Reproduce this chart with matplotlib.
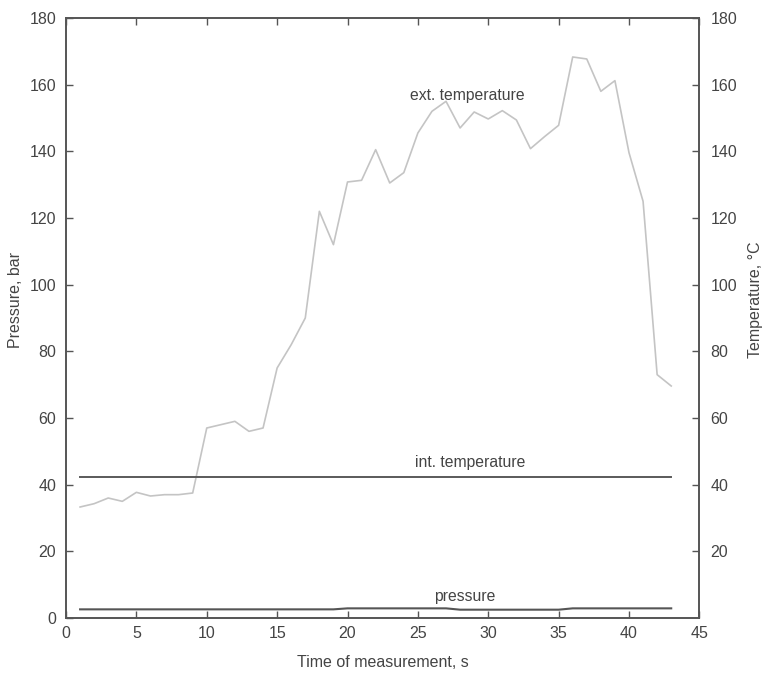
import numpy as np
import matplotlib
matplotlib.use('Agg')
import matplotlib.pyplot as plt

plt.rcParams['font.family'] = ['Liberation Sans', 'DejaVu Sans']

# time of measurement, s
time_s = list(range(1, 44))

# external temperature, °C
ext_temp = [33.3, 34.3, 36.0, 35.0, 37.7, 36.6, 37.0, 37.0, 37.5, 57.0,
            58.0, 59.0, 56.0, 57.0, 75.0, 82.0, 90.0, 122.0, 112.0, 130.8,
            131.3, 140.5, 130.5, 133.6, 145.5, 152.0, 155.0, 147.0, 151.8, 149.7,
            152.2, 149.4, 140.8, 144.4, 147.8, 168.3, 167.7, 158.0, 161.2, 139.6,
            125.0, 73.0, 69.6]

# internal temperature, °C
int_temp = [42.2] * 43

# pressure, bar
pressure = ([2.6] * 19 + [2.9] * 8 + [2.5] * 8 + [2.9] * 8)

x_ticks = [0, 5, 10, 15, 20, 25, 30, 35, 40, 45]
left_ticks = [0, 20, 40, 60, 80, 100, 120, 140, 160, 180]
right_ticks = [20, 40, 60, 80, 100, 120, 140, 160, 180]

text_color = '#444444'
spine_color = '#555555'

fig = plt.figure(figsize=(7.64, 6.73), dpi=100)
ax = fig.add_axes([0.0864, 0.0817, 0.829, 0.8916])
ax2 = ax.twinx()

ax.plot(time_s, pressure, color='#555555', lw=1.5)
ax2.plot(time_s, ext_temp, color='#c4c4c4', lw=1.2)
ax2.plot(time_s, int_temp, color='#5a5a5a', lw=1.4)

ax.set_xlim(0, 45)
ax.set_ylim(0, 180)
ax2.set_ylim(0, 180)
ax.set_xticks(x_ticks)
ax.set_yticks(left_ticks)
ax2.set_yticks(right_ticks)

ax.tick_params(axis='both', direction='in', length=5, width=1, color=spine_color,
               labelsize=11.5, labelcolor=text_color, top=True, pad=7)
ax.tick_params(axis='x', pad=6)
ax2.tick_params(axis='y', direction='in', length=5, width=1, color=spine_color,
                labelsize=11.5, labelcolor=text_color, pad=8)

for a in (ax, ax2):
    for s in a.spines.values():
        s.set_color(spine_color)
        s.set_linewidth(1.2)

ax.set_xlabel('Time of measurement, s', fontsize=11.5, color=text_color, labelpad=10)
ax.set_ylabel('Pressure, bar', fontsize=11.5, color=text_color)
ax.yaxis.set_label_coords(-0.068, 0.53)
ax2.set_ylabel('Temperature, °C', fontsize=11.5, color=text_color, rotation=90)
ax2.yaxis.set_label_coords(1.077, 0.53)

ax2.text(28.5, 156.8, 'ext. temperature', fontsize=11.3, color=text_color,
         ha='center', va='center')
ax2.text(28.7, 46.6, 'int. temperature', fontsize=11.3, color=text_color,
         ha='center', va='center')
ax.text(28.3, 6.5, 'pressure', fontsize=11.3, color=text_color,
        ha='center', va='center')

fig.savefig('out.png', dpi=100)
